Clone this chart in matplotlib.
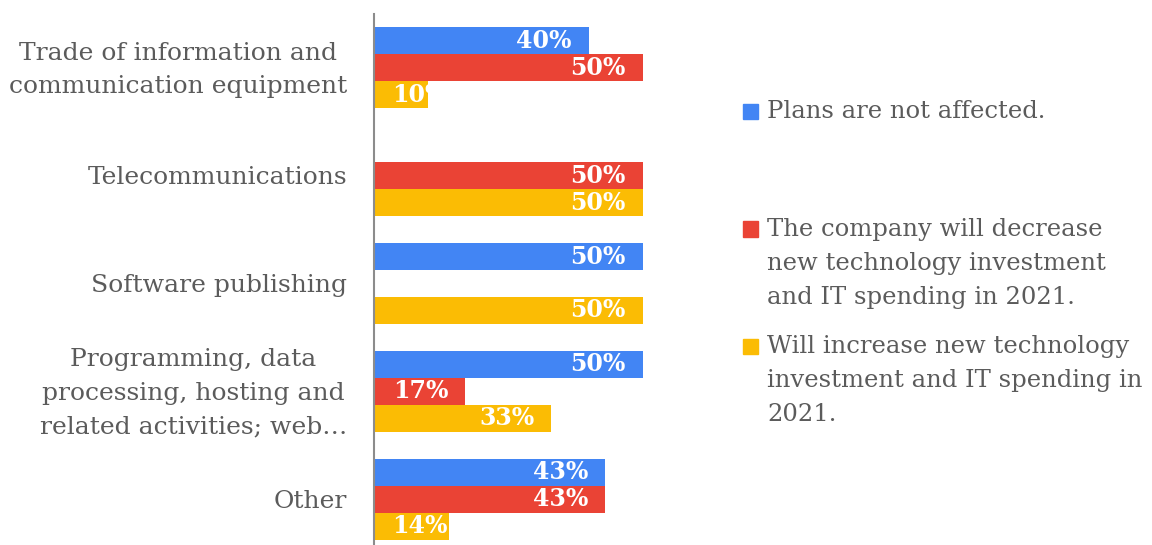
import matplotlib
matplotlib.use("Agg")
import matplotlib.pyplot as plt
from matplotlib.patches import Rectangle
from matplotlib.transforms import ScaledTranslation

# Data
categories = [
    "Trade of information and\ncommunication equipment",
    "Telecommunications",
    "Software publishing",
    "Programming, data\nprocessing, hosting and\nrelated activities; web\u2026",
    "Other",
]
series_names = [
    "Plans are not affected.",
    "The company will decrease\nnew technology investment\nand IT spending in 2021.",
    "Will increase new technology\ninvestment and IT spending in\n2021.",
]
not_affected = [40, 0, 50, 50, 43]
decrease = [50, 50, 0, 17, 43]
increase = [10, 50, 50, 33, 14]
colors = ["#4285F4", "#EA4335", "#FBBC04"]

FONT = "DejaVu Serif"
TEXT_COLOR = "#5b5b5b"
W, H, DPI = 1152, 545, 100
LINESPACING = 1.6

fig = plt.figure(figsize=(W / DPI, H / DPI), dpi=DPI)
ax = fig.add_axes([374 / W, 1 - 553 / H, 322.4 / W, (553 - 14) / H])

bar_h = 0.25
all_series = [not_affected, decrease, increase]
bar_groups = []
for j, (vals, col) in enumerate(zip(all_series, colors)):
    ys = [i + (j - 1) * bar_h for i in range(len(categories))]
    bars = ax.barh(ys, vals, height=bar_h, color=col, edgecolor="none")
    bar_groups.append((bars, vals))

ax.set_xlim(0, 60)
ax.set_ylim(len(categories) - 0.5, -0.5)

for s in ["top", "right", "bottom"]:
    ax.spines[s].set_visible(False)
ax.spines["left"].set_color("#8c8c8c")
ax.spines["left"].set_linewidth(1.5)
ax.set_xticks([])
ax.set_yticks(range(len(categories)))
ax.set_yticklabels(categories, fontfamily=FONT, fontsize=18, color=TEXT_COLOR)
ax.tick_params(axis="y", length=0, pad=19.5)
nudge = ScaledTranslation(0, -2 / DPI, fig.dpi_scale_trans)
for lbl in ax.get_yticklabels():
    lbl.set_multialignment("center")
    lbl.set_linespacing(LINESPACING)
    lbl.set_verticalalignment("center")
    lbl.set_transform(lbl.get_transform() + nudge)

# Value labels inside the bars, clipped to the bar
fig.canvas.draw()
renderer = fig.canvas.get_renderer()
x_axis_px = ax.transData.transform((0, 0))[0]
for bars, vals in bar_groups:
    for rect, v in zip(bars, vals):
        if v == 0:
            continue
        yc = rect.get_y() + rect.get_height() / 2
        t = ax.annotate(f"{v}%", xy=(v, yc), xytext=(-17, 0),
                        textcoords="offset pixels", ha="right", va="center",
                        fontfamily=FONT, fontweight="bold", fontsize=17,
                        color="white")
        bb = t.get_window_extent(renderer)
        if bb.x0 < x_axis_px + 18:
            t.xy = (0, yc)
            t.set_position((18, 0))
            t.set_horizontalalignment("left")
        t.set_clip_path(rect)

# Legend
legend_rows = [111, 229, 346]  # pixel centre of each entry's first line
for name, col, yc in zip(series_names, colors, legend_rows):
    fig.patches.append(Rectangle((743 / W, 1 - (yc + 7.5) / H), 15 / W, 15 / H,
                                 transform=fig.transFigure, color=col))
    fig.text(767 / W, 1 - (yc - 11) / H, name, ha="left", va="top",
             fontfamily=FONT, fontsize=17.5, color=TEXT_COLOR,
             linespacing=LINESPACING)

fig.savefig("out.png", dpi=DPI)
